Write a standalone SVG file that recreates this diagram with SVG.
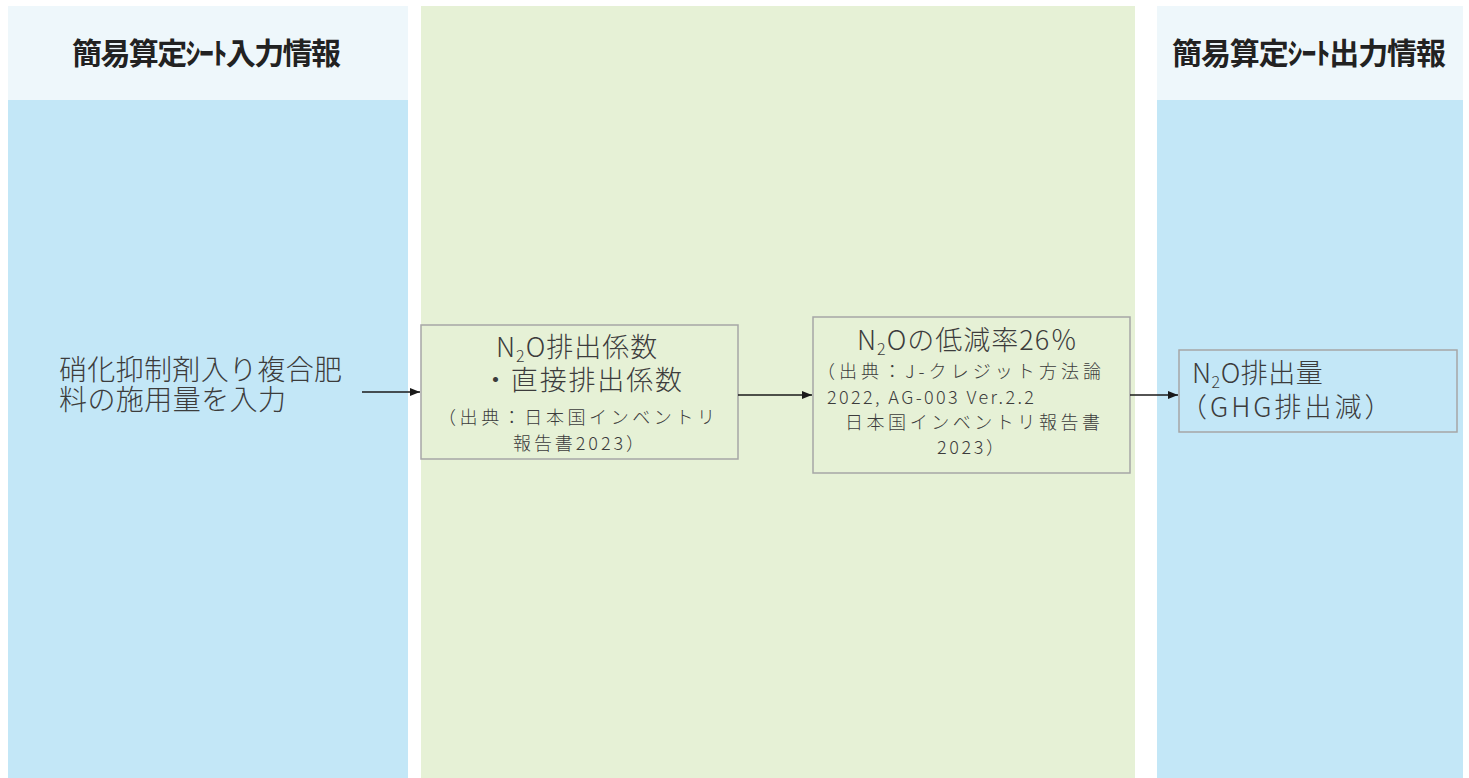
<svg xmlns="http://www.w3.org/2000/svg" width="1469" height="778" viewBox="0 0 1469 778">
<style>
text{font-family:"Noto Sans CJK JP","Noto Sans",sans-serif;fill:#3c3c3c;font-weight:300}
.hd{font-size:30px;font-weight:bold;fill:#222}
.lg{font-size:27px}
.sm{font-size:18px}
.sub{font-size:16px}
.box{stroke:#a6a6a6;stroke-width:1.5}
.conn{stroke:#1a1a1a;stroke-width:1.5;fill:none}
</style>
<defs>
<marker id="ah" markerWidth="10" markerHeight="8" refX="10" refY="4" orient="auto" markerUnits="userSpaceOnUse">
<path d="M0,0 L10,4 L0,8 Z" fill="#1a1a1a"/>
</marker>
</defs>
<g id="background">
<rect x="8" y="6" width="400" height="94" fill="#eef7fb"/>
<rect x="8" y="100" width="400" height="678" fill="#c3e7f7"/>
<rect x="421" y="6" width="714" height="772" fill="#e6f1d6"/>
<rect x="1157" y="6" width="306" height="94" fill="#eef7fb"/>
<rect x="1157" y="100" width="306" height="678" fill="#c3e7f7"/>
</g>
<g id="header-input">
<text class="hd" x="72" y="64" textLength="269" lengthAdjust="spacing">簡易算定ｼｰﾄ入力情報</text>
</g>
<g id="header-output">
<text class="hd" x="1172" y="64" textLength="274" lengthAdjust="spacing">簡易算定ｼｰﾄ出力情報</text>
</g>
<g id="input-text">
<text x="59" y="380" font-size="28" textLength="283" lengthAdjust="spacing">硝化抑制剤入り複合肥</text>
<text x="59" y="410" font-size="28" textLength="227" lengthAdjust="spacing">料の施用量を入力</text>
</g>
<g id="node-factor">
<rect class="box" x="421" y="325" width="317" height="134" fill="#e6f1d6"/>
<text class="lg" x="496" y="357" letter-spacing="1">N<tspan class="sub" dy="5">2</tspan><tspan dy="-5">O排出係数</tspan></text>
<text class="lg" x="482" y="390" textLength="200" lengthAdjust="spacing">・直接排出係数</text>
<text class="sm" x="438" y="424" textLength="277" lengthAdjust="spacing">（出典：日本国インベントリ</text>
<text class="sm" x="513" y="450" textLength="131" lengthAdjust="spacing">報告書2023）</text>
</g>
<g id="node-reduction">
<rect class="box" x="813" y="317" width="317" height="156" fill="#e6f1d6"/>
<text class="lg" x="857" y="350" letter-spacing="1">N<tspan class="sub" dy="5">2</tspan><tspan dy="-5">Oの低減率26％</tspan></text>
<text class="sm" x="817" y="378" textLength="284" lengthAdjust="spacing">（出典：J-クレジット方法論</text>
<text class="sm" x="827" y="404" textLength="207" lengthAdjust="spacing">2022, AG-003 Ver.2.2</text>
<text class="sm" x="845" y="429" textLength="255" lengthAdjust="spacing">日本国インベントリ報告書</text>
<text class="sm" x="937" y="454" textLength="67" lengthAdjust="spacing">2023）</text>
</g>
<g id="node-output">
<rect class="box" x="1179" y="350" width="278" height="82" fill="#c3e7f7"/>
<text class="lg" x="1192" y="383" letter-spacing="0.5">N<tspan class="sub" dy="5">2</tspan><tspan dy="-5">O排出量</tspan></text>
<text class="lg" x="1180" y="417" letter-spacing="3">（GHG排出減）</text>
</g>
<g id="connectors">
<line class="conn" x1="362" y1="392" x2="420" y2="392" marker-end="url(#ah)"/>
<line class="conn" x1="738" y1="395" x2="812" y2="395" marker-end="url(#ah)"/>
<line class="conn" x1="1130" y1="395" x2="1178" y2="395" marker-end="url(#ah)"/>
</g>
</svg>
